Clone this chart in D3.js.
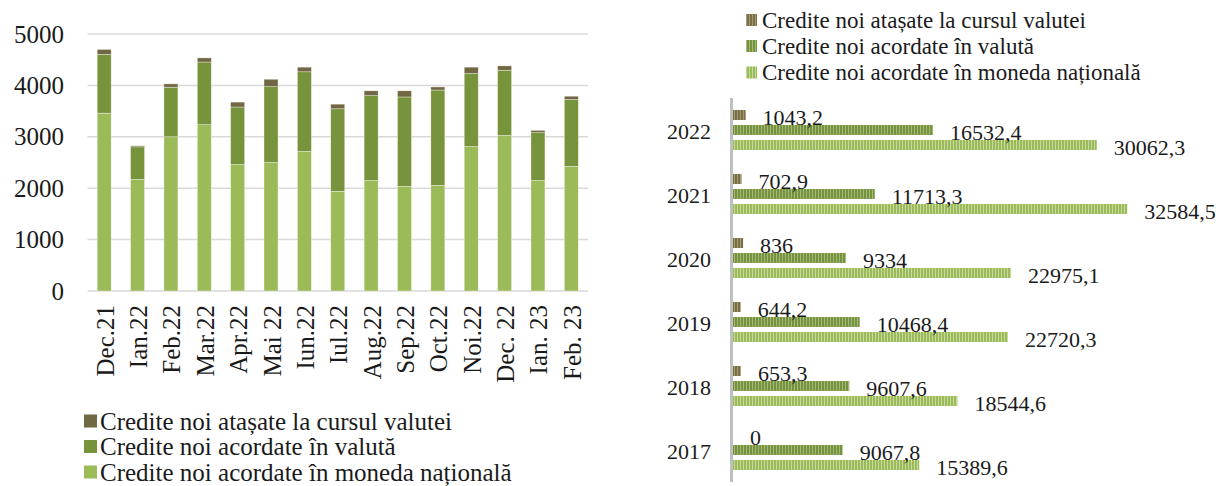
<!DOCTYPE html>
<html>
<head>
<meta charset="utf-8">
<script src="https://cdn.jsdelivr.net/npm/d3@7/dist/d3.min.js"></script>
<style>
  html, body { margin: 0; padding: 0; background: #fff; }
  svg text { font-family: "Liberation Serif", "Times New Roman", serif; fill: #1a1a1a; }
</style>
</head>
<body>
<svg id="chart" width="1226" height="486"></svg>
<script>
// ---- Left chart data (monthly, stacked) ----
const months = ["Dec.21","Ian.22","Feb.22","Mar.22","Apr.22","Mai 22","Iun.22","Iul.22","Aug.22","Sep.22","Oct.22","Noi.22","Dec. 22","Ian. 23","Feb. 23"];
const nationalM = [3460, 2170, 3000, 3235, 2460, 2500, 2715, 1940, 2150, 2035, 2055, 2810, 3025, 2150, 2425];
const valutaM   = [1145,  635,  965, 1220, 1120, 1475, 1550, 1605, 1650, 1740, 1855, 1420, 1270,  930, 1300];
const atasateM  = [  95,   20,   65,   80,   95,  145,   90,   90,   95,  120,   60,  125,   85,   45,   65];
const yTicks = [0, 1000, 2000, 3000, 4000, 5000];

// ---- Right chart data (yearly) ----
const years = ["2022","2021","2020","2019","2018","2017"];
const atasateY  = [1043.2, 702.9, 836, 644.2, 653.3, 0];
const valutaY   = [16532.4, 11713.3, 9334, 10468.4, 9607.6, 9067.8];
const nationalY = [30062.3, 32584.5, 22975.1, 22720.3, 18544.6, 15389.6];

const seriesNames = ["Credite noi atașate la cursul valutei", "Credite noi acordate în valută", "Credite noi acordate în moneda națională"];

const colors = { att: "#716742", val: "#77933C", nat: "#9BBB59" };

const svg = d3.select("#chart");

// ---------- patterns ----------
const defs = svg.append("defs");
function stripe(id, base, light) {
  const p = defs.append("pattern").attr("id", id).attr("patternUnits", "userSpaceOnUse")
    .attr("width", 3).attr("height", 10);
  p.append("rect").attr("width", 3).attr("height", 10).attr("fill", base);
  p.append("rect").attr("x", 2).attr("width", 1).attr("height", 10).attr("fill", light);
}
stripe("pAtt", "#7B6F45", "#A59C76");
stripe("pVal", "#76923C", "#A3BA7C");
stripe("pNat", "#9BBB59", "#C6DA9E");

// ---------- LEFT CHART ----------
const y = d3.scaleLinear().domain([0, 5000]).range([291, 34]);
const x = d3.scaleBand().domain(months).range([87.5, 588]).paddingInner(0.58).paddingOuter(0.29);

const gL = svg.append("g");
gL.selectAll("line.grid").data(yTicks).join("line")
  .attr("x1", 87.5).attr("x2", 588)
  .attr("y1", d => y(d)).attr("y2", d => y(d))
  .attr("stroke", "#D9D9D9").attr("stroke-width", 1.5);

gL.selectAll("text.ytick").data(yTicks).join("text")
  .attr("x", 64).attr("y", d => y(d))
  .attr("text-anchor", "end").attr("dominant-baseline", "central")
  .attr("font-size", 25).text(d => d);

const stackData = months.map((m, i) => ({ m, nat: nationalM[i], val: valutaM[i], att: atasateM[i] }));
const stack = d3.stack().keys(["nat", "val", "att"])(stackData);
gL.selectAll("g.layer").data(stack).join("g")
  .attr("fill", d => colors[d.key])
  .selectAll("rect").data(d => d).join("rect")
  .attr("x", d => x(d.data.m)).attr("width", x.bandwidth())
  .attr("y", d => y(d[1])).attr("height", d => y(d[0]) - y(d[1]))
  .attr("stroke", "#ffffff").attr("stroke-width", 0.6).attr("stroke-opacity", 0.6);

gL.selectAll("text.xtick").data(months).join("text")
  .attr("transform", d => `translate(${x(d) + x.bandwidth() / 2 + 1},305) rotate(-90)`)
  .attr("text-anchor", "end").attr("dominant-baseline", "central")
  .attr("font-size", 25).text(d => d);

const legL = gL.append("g");
const legColsL = [colors.att, colors.val, colors.nat];
const legYL = [421, 446.5, 472];
seriesNames.forEach((s, i) => {
  legL.append("rect").attr("x", 84).attr("y", legYL[i] - 6.5).attr("width", 13).attr("height", 13).attr("fill", legColsL[i]);
  legL.append("text").attr("x", 100).attr("y", legYL[i]).attr("dominant-baseline", "central")
    .attr("font-size", 25).text(s);
});

// ---------- RIGHT CHART ----------
const xr = d3.scaleLinear().domain([0, 35000]).range([733, 733 + 423.5]);
const yr = d3.scaleBand().domain(years).range([98, 482]).paddingInner(0.375).paddingOuter(0.1875);
const sub = d3.scaleBand().domain(["att", "val", "nat"]).range([0, yr.bandwidth()]).paddingInner(1 / 3).paddingOuter(0);
const pat = { att: "url(#pAtt)", val: "url(#pVal)", nat: "url(#pNat)" };

const gR = svg.append("g");
const rows = years.map((yv, i) => ({ year: yv, vals: [
  { k: "att", v: atasateY[i] }, { k: "val", v: valutaY[i] }, { k: "nat", v: nationalY[i] } ] }));

const grp = gR.selectAll("g.year").data(rows).join("g")
  .attr("transform", d => `translate(0,${yr(d.year)})`);
grp.selectAll("rect").data(d => d.vals).join("rect")
  .attr("x", xr(0)).attr("y", d => sub(d.k))
  .attr("width", d => xr(d.v) - xr(0)).attr("height", sub.bandwidth())
  .attr("fill", d => pat[d.k]);
grp.selectAll("text.val").data(d => d.vals).join("text")
  .attr("x", d => xr(d.v) + 17).attr("y", d => sub(d.k) + sub.bandwidth() / 2 + 2)
  .attr("dominant-baseline", "central").attr("font-size", 22)
  .text(d => String(d.v).replace(".", ","));

gR.selectAll("text.year").data(years).join("text")
  .attr("x", 711).attr("y", d => yr(d) + yr.bandwidth() / 2 + 1)
  .attr("text-anchor", "end").attr("dominant-baseline", "central")
  .attr("font-size", 22).text(d => d);

gR.append("line").attr("x1", 731.5).attr("x2", 731.5).attr("y1", 98).attr("y2", 482)
  .attr("stroke", "#BFBFBF").attr("stroke-width", 3);

const legR = gR.append("g");
const legPatR = [pat.att, pat.val, pat.nat];
const legYR = [20, 46, 72.5];
seriesNames.forEach((s, i) => {
  legR.append("rect").attr("x", 746).attr("y", legYR[i] - 6).attr("width", 11).attr("height", 12).attr("fill", legPatR[i]);
  legR.append("text").attr("x", 762).attr("y", legYR[i]).attr("dominant-baseline", "central")
    .attr("font-size", 23).text(s);
});
</script>
</body>
</html>
